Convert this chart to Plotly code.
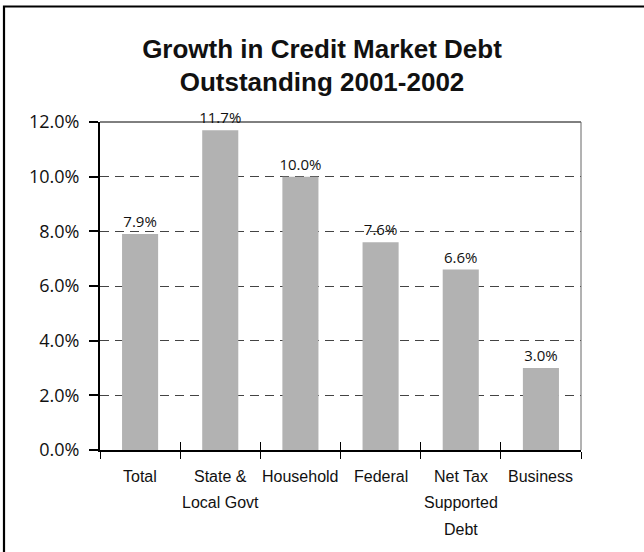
import plotly.graph_objects as go

# Growth in credit market debt outstanding, 2001-2002 (percent)
categories = ["Total", "State & Local Govt", "Household", "Federal",
              "Net Tax Supported Debt", "Business"]
tick_labels = ["Total", "State &<br>Local Govt", "Household", "Federal",
               "Net Tax<br>Supported<br>Debt", "Business"]
growth_pct = [7.9, 11.7, 10.0, 7.6, 6.6, 3.0]
y_ticks = [0, 2, 4, 6, 8, 10, 12]

W, H = 644, 552
L, R, T, B = 100, 63, 122, 102
plot_w = W - L - R
plot_h = H - T - B


def px_to_paper_x(px):
    return (px - L) / plot_w


def px_to_paper_y(py):
    return (H - B - py) / plot_h


sans = "Liberation Sans, Arial, sans-serif"
open_sans = "Open Sans, Liberation Sans, sans-serif"

fig = go.Figure()

fig.add_trace(go.Bar(
    x=categories,
    y=growth_pct,
    marker=dict(color="#b2b2b2", line=dict(width=0)),
    texttemplate="%{y:.1f}%",
    textposition="outside",
    constraintext="none",
    textfont=dict(family=open_sans, size=15, color="#111"),
    cliponaxis=False,
    hoverinfo="skip",
))

# invisible companion trace that carries the inward-pointing category ticks
fig.add_trace(go.Scatter(
    x=categories,
    y=growth_pct,
    xaxis="x2",
    mode="markers",
    marker=dict(opacity=0),
    hoverinfo="skip",
    showlegend=False,
))

# category labels, one annotation per text line for wider line spacing
LINE_STEP = 26.5
FIRST_LINE = 26
label_annotations = []
for cat, label in zip(categories, tick_labels):
    for i, line in enumerate(label.split("<br>")):
        label_annotations.append(dict(
            x=cat, xref="x", y=0, yref="paper",
            text=line, showarrow=False,
            xanchor="center", yanchor="middle",
            yshift=-(FIRST_LINE + LINE_STEP * i),
            font=dict(family=sans, size=16, color="#111"),
        ))

fig.update_layout(
    width=W,
    height=H,
    margin=dict(l=L, r=R, t=T, b=B, autoexpand=False),
    paper_bgcolor="white",
    plot_bgcolor="white",
    showlegend=False,
    bargap=0.55,
    title=dict(
        text="<b>Growth in Credit Market Debt<br>Outstanding 2001-2002</b>",
        x=0.5, xref="container", xanchor="center",
        y=1 - 57.5 / H, yref="container", yanchor="middle",
        font=dict(family=sans, size=26, color="#111"),
    ),
    xaxis=dict(
        type="category",
        categoryorder="array",
        categoryarray=categories,
        showticklabels=False,
        tickson="boundaries",
        ticks="outside",
        ticklen=7,
        tickwidth=1.2,
        tickcolor="black",
        showline=True,
        linecolor="black",
        linewidth=1.5,
        showgrid=False,
    ),
    xaxis2=dict(
        type="category",
        matches="x",
        overlaying="x",
        anchor="y",
        side="bottom",
        categoryorder="array",
        categoryarray=categories,
        tickson="boundaries",
        ticks="inside",
        ticklen=8,
        tickwidth=1.2,
        tickcolor="black",
        showticklabels=False,
        showline=False,
        showgrid=False,
    ),
    yaxis=dict(
        range=[0, 12],
        tickvals=y_ticks,
        ticktext=[f"{v:.1f}%" for v in y_ticks],
        ticks="outside",
        ticklen=9,
        tickwidth=1.5,
        tickcolor="black",
        showline=True,
        linecolor="black",
        linewidth=2,
        showgrid=True,
        gridcolor="#444444",
        gridwidth=1.1,
        griddash="9px,6px",
        zeroline=False,
        tickfont=dict(family=open_sans, size=18, color="#111"),
        ticklabelstandoff=6,
    ),
    annotations=label_annotations,
    shapes=[
        # solid frame line along the top of the plot area
        dict(type="line", xref="paper", yref="paper", x0=0, x1=1, y0=1, y1=1,
             line=dict(color="black", width=1), layer="above"),
        # right edge of the plot area
        dict(type="line", xref="paper", yref="paper", x0=1, x1=1, y0=0, y1=1,
             line=dict(color="#666666", width=1), layer="above"),
        # outer chart border
        dict(type="rect", xref="paper", yref="paper",
             x0=px_to_paper_x(4), x1=px_to_paper_x(W + 10),
             y0=px_to_paper_y(H + 10), y1=px_to_paper_y(6.5),
             line=dict(color="black", width=2.2), fillcolor="rgba(0,0,0,0)",
             layer="below"),
    ],
)

fig.write_html("out.html")
